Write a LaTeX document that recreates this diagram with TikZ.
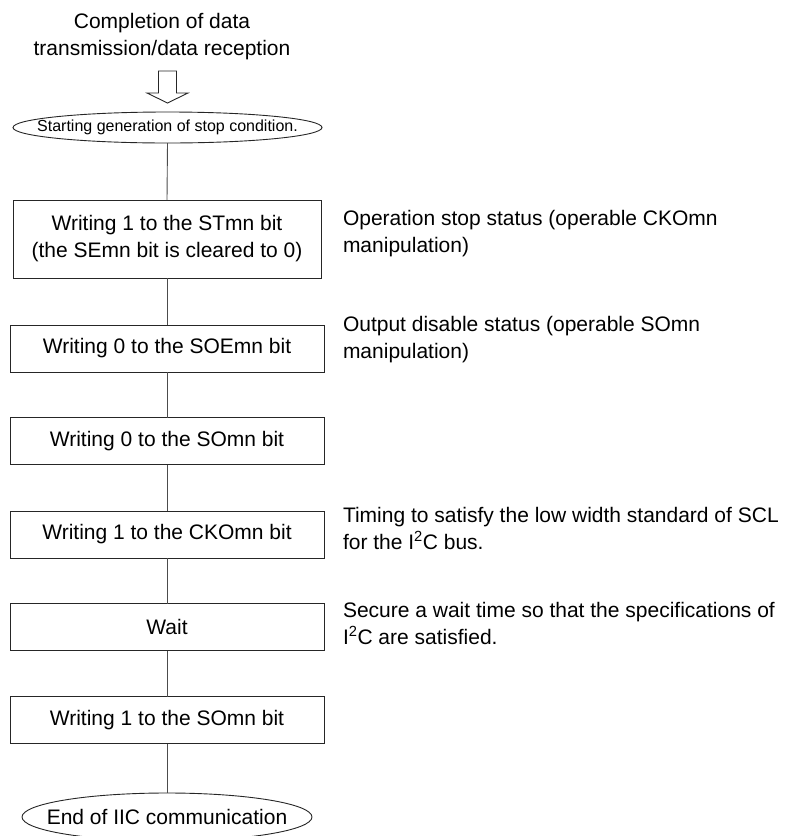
\documentclass[tikz,border=0pt]{standalone}
\usepackage{fontspec}
\setmainfont{Liberation Sans}
\begin{document}
\begin{tikzpicture}[x=1pt,y=-1pt,
  every node/.style={inner sep=0pt, outer sep=0pt},
  big/.style={font=\fontsize{21}{27}\selectfont},
  small/.style={font=\fontsize{16}{20}\selectfont},
  stepbox/.style={draw=black!85, line width=0.9pt, minimum width=314pt, minimum height=47pt, big, align=center},
  conn/.style={draw=black!70, line width=0.9pt},
  outline/.style={draw=black!85, line width=0.9pt},
  note/.style={font=\fontsize{21}{26.5}\selectfont, align=left, anchor=north west}]
\path[use as bounding box] (0,0) rectangle (790,836);
\clip (0,0) rectangle (790,836);

% top text and hollow arrow
\node[big, align=center] (top) at (162,37) {Completion of data\\transmission/data reception};
\draw[outline, fill=white] (158.5,71) -- (176.5,71) -- (176.5,93) -- (188,93) -- (167.5,103) -- (147,93) -- (158.5,93) -- cycle;

% start terminal
\node[small, minimum width=309pt, minimum height=31pt] (start) at (167.5,127.5) {Starting generation of stop condition.};
\draw[outline] (start.center) ellipse [x radius=154.5pt, y radius=15.5pt];

% process boxes
\node[stepbox, minimum width=308pt, minimum height=78pt] (b1) at (167,239) {Writing 1 to the STmn bit\\(the SEmn bit is cleared to 0)};
\node[stepbox] (b2) at (167,348.5) {Writing 0 to the SOEmn bit};
\node[stepbox] (b3) at (167,441) {Writing 0 to the SOmn bit};
\node[stepbox] (b4) at (167,534.5) {Writing 1 to the CKOmn bit};
\node[stepbox] (b5) at (167,627) {Wait};
\node[stepbox] (b6) at (167,720) {Writing 1 to the SOmn bit};

% end terminal
\node[big, minimum width=290pt, minimum height=48pt] (end) at (167,817) {End of IIC communication};
\draw[outline] (end.center) ellipse [x radius=145pt, y radius=24pt];

% connectors
\draw[conn] (start.south) -- (b1.north);
\draw[conn] (b1.south) -- (b2.north);
\draw[conn] (b2.south) -- (b3.north);
\draw[conn] (b3.south) -- (b4.north);
\draw[conn] (b4.south) -- (b5.north);
\draw[conn] (b5.south) -- (b6.north);
\draw[conn] (b6.south) -- (end.north);

% notes
\node[note] (n1) at (343,210.7) {Operation stop status (operable CKOmn\\manipulation)};
\node[note] (n2) at (343,316.7) {Output disable status (operable SOmn\\manipulation)};
\node[note] (n4) at (343,507.7) {Timing to satisfy the low width standard of SCL\\for the I\textsuperscript{2}C bus.};
\node[note] (n5) at (343,602.5) {Secure a wait time so that the specifications of\\I\textsuperscript{2}C are satisfied.};
\end{tikzpicture}
\end{document}
